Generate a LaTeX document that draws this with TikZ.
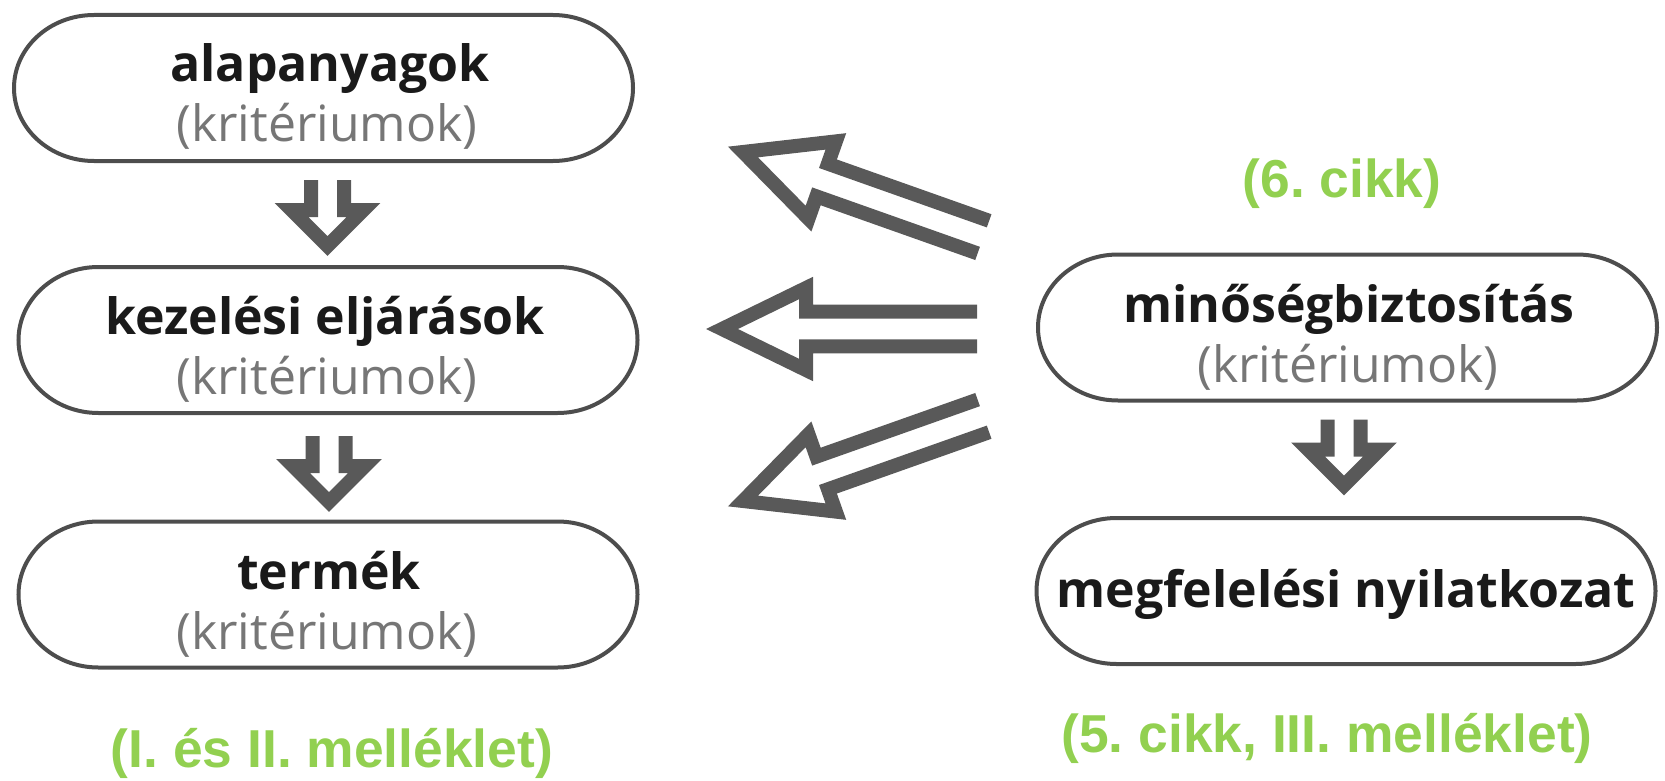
\documentclass[tikz,border=0pt]{standalone}
\usepackage{fontspec}
\setmainfont{Open Sans}
\newfontfamily\greenfont{Liberation Sans}
\frenchspacing
\definecolor{boxline}{HTML}{4D4D4D}
\definecolor{arrowgray}{HTML}{595959}
\definecolor{graytext}{HTML}{767676}
\definecolor{blacktext}{HTML}{1A1A1A}
\definecolor{refgreen}{HTML}{92D050}
\tikzset{
  pill/.style={minimum width=619pt, minimum height=146pt, inner sep=0pt, outer sep=0pt},
  pillline/.style={draw=boxline, line width=4pt},
  maintext/.style={anchor=base, font=\fontsize{50}{60}\selectfont\bfseries, text=blacktext, inner sep=0pt},
  subtext/.style={anchor=base, font=\fontsize{50}{60}\selectfont, text=graytext, inner sep=0pt},
  reftext/.style={anchor=base, font=\greenfont\fontsize{53.4}{64}\selectfont\bfseries, text=refgreen, inner sep=0pt},
  hollow/.style={draw=arrowgray, line width=14pt, line join=miter, line cap=butt, miter limit=10},
  downarrow/.pic={\draw[hollow] (-16.5,0) -- (-16.5,30) -- (-36,30) -- (0,66) -- (36,30) -- (16.5,30) -- (16.5,0);},
  bigarrow/.pic={\draw[hollow] (255,-17.3) -- (84,-17.3) -- (84,-41) -- (0,0) -- (84,41) -- (84,17.3) -- (255,17.3);}
}
\newcommand\pilloutline[1]{%
  \draw[pillline] ([xshift=80pt]#1.north west) -- ([xshift=-80pt]#1.north east)
    arc[start angle=90, end angle=-90, x radius=80pt, y radius=73pt]
    -- ([xshift=80pt]#1.south west)
    arc[start angle=270, end angle=90, x radius=80pt, y radius=73pt] -- cycle;}
\begin{document}
\begin{tikzpicture}[x=1pt,y=-1pt]
\useasboundingbox (0,0) rectangle (1665,781);
% left column
\node[pill] (b1) at (323.5,88) {};
\node[pill] (b2) at (328,340) {};
\node[pill] (b3) at (328,594.5) {};
\node[pill] (r1) at (1347.5,327.5) {};
\node[pill] (r2) at (1346,591) {};
\pilloutline{b1}
\pilloutline{b2}
\pilloutline{b3}
\pilloutline{r1}
\pilloutline{r2}
\node[maintext] (t1) at (330,82) {alapanyagok};
\node[subtext] (s1) at (327,142) {(kritériumok)};
\node[maintext] (t2) at (325,334) {kezelési eljárások};
\node[subtext] (s2) at (327,394) {(kritériumok)};
\node[maintext] (t3) at (329,589) {termék};
\node[subtext] (s3) at (327,649) {(kritériumok)};
% right column
\node[maintext] (t4) at (1349,322) {minőségbiztosítás};
\node[subtext] (s4) at (1348,382) {(kritériumok)};
\node[maintext] (t5) at (1346,607) {megfelelési nyilatkozat};
% references
\node[reftext] (g1) at (1342,197) {(6. cikk)};
\node[reftext] (g2) at (1327,752) {(5. cikk, III. melléklet)};
\node[reftext] (g3) at (332,767) {(I. és II. melléklet)};
% down arrows
\pic at ([xshift=4pt,yshift=-19pt]b1.south) {downarrow};
\pic at ([xshift=1pt,yshift=-23pt]b2.south) {downarrow};
\pic at ([xshift=-3.5pt,yshift=-19pt]r1.south) {downarrow};
% big arrows
\coordinate (tipA) at (743,152);
\coordinate (tipB) at (722,329);
\coordinate (tipC) at (743,501);
\pic[rotate=-19.5] at (tipA) {bigarrow};
\pic at (tipB) {bigarrow};
\pic[rotate=19.5] at (tipC) {bigarrow};
\end{tikzpicture}
\end{document}
